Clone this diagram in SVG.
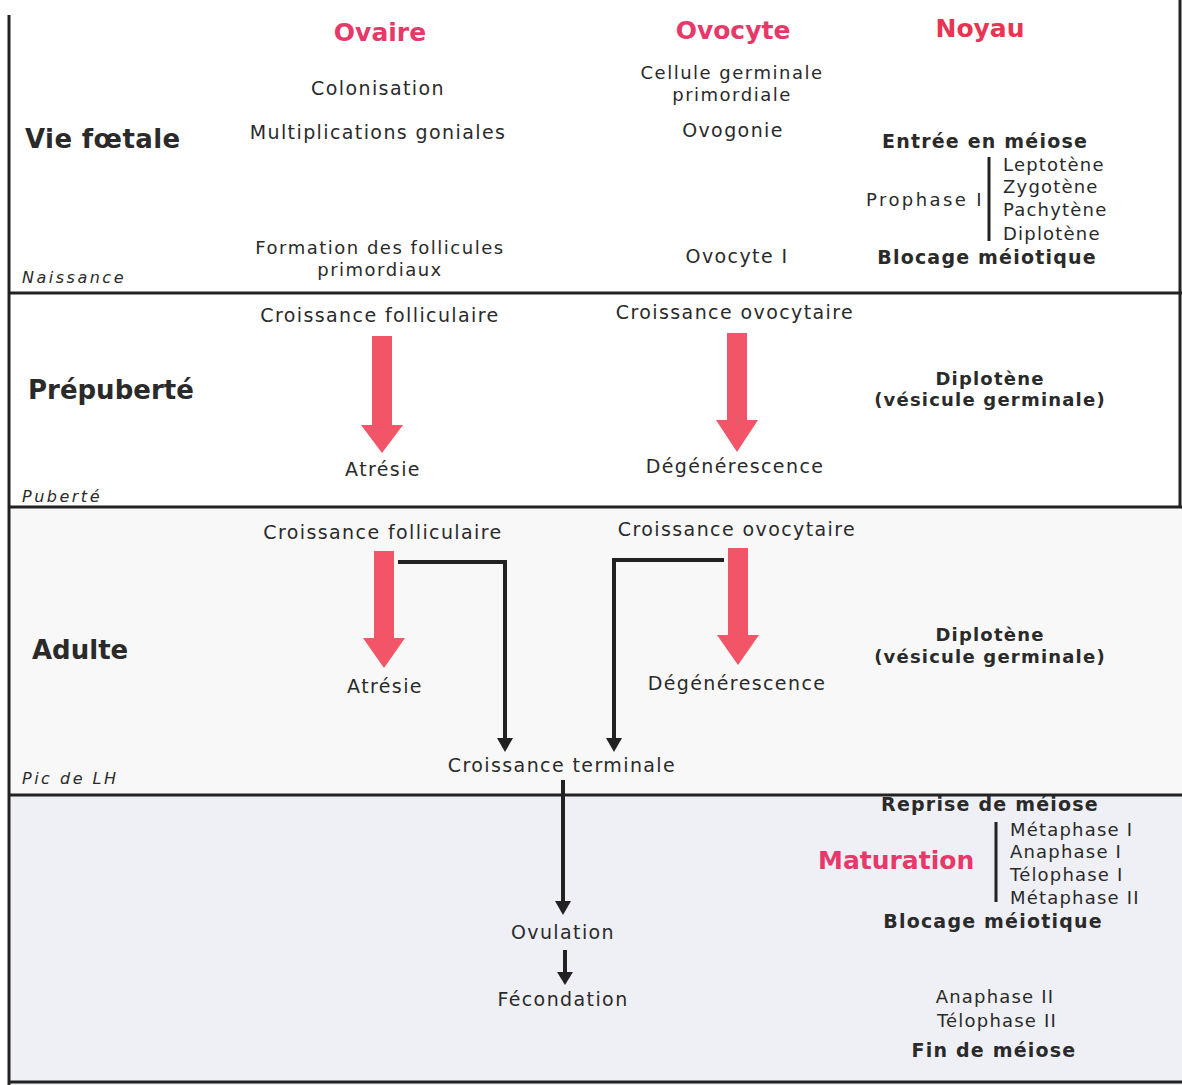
<svg xmlns="http://www.w3.org/2000/svg" width="1182" height="1085" viewBox="0 0 1182 1085">
<defs>
<style>
text{font-family:"DejaVu Sans","Liberation Sans",sans-serif;fill:#2a2a2a}
.t{font-size:19px;letter-spacing:1.4px;text-anchor:middle}
.t2{font-size:18px;letter-spacing:1.5px;text-anchor:middle}
.b{font-size:19px;font-weight:bold;letter-spacing:1.2px;text-anchor:middle}
.b2{font-size:18px;font-weight:bold;letter-spacing:1.2px;text-anchor:middle}
.s{font-size:18px;letter-spacing:1.2px}
.h{font-size:25px;font-weight:bold;text-anchor:middle}
.p{fill:#e6396a}
.big{font-size:26px;font-weight:bold}
.i{font-size:16px;font-style:italic;letter-spacing:2.5px}
.sep{stroke:#222;stroke-width:3;fill:none}
.con{stroke:#222;stroke-width:4;fill:none}
.hd{fill:#222}
.red{fill:#f25568}
</style>
</defs>
<rect width="1182" height="1085" fill="#ffffff"/>
<rect x="8" y="507" width="1174" height="288" fill="#f8f8f8"/>
<rect x="8" y="795" width="1174" height="290" fill="#eff0f5"/>
<g id="frame">
<path class="sep" d="M9 15 V1085"/>
<path class="sep" d="M1180 0 V507"/>
<path class="sep" d="M8 293 H1182"/>
<path class="sep" d="M8 507 H1182"/>
<path class="sep" d="M8 795 H1182"/>
<path class="sep" d="M8 1082 H1182"/>
</g>
<g id="headers">
<text class="h p" x="380" y="41">Ovaire</text>
<text class="h p" x="733" y="39">Ovocyte</text>
<text class="h" x="980" y="37" style="fill:#e83552">Noyau</text>
</g>
<g id="periods">
<text class="big" x="25" y="148" style="letter-spacing:0.4px">Vie fœtale</text>
<text class="i" x="22" y="283">Naissance</text>
<text class="big" x="28" y="399">Prépuberté</text>
<text class="i" x="22" y="502">Puberté</text>
<text class="big" x="32" y="659">Adulte</text>
<text class="i" x="22" y="784">Pic de LH</text>
</g>
<g id="foetal-ovaire">
<text class="t" x="378" y="95">Colonisation</text>
<text class="t" x="378" y="139">Multiplications goniales</text>
<text class="t2" x="380" y="254">Formation des follicules</text>
<text class="t2" x="380" y="276">primordiaux</text>
</g>
<g id="foetal-ovocyte">
<text class="t2" x="732" y="79">Cellule germinale</text>
<text class="t2" x="732" y="101">primordiale</text>
<text class="t" x="733" y="137">Ovogonie</text>
<text class="t" x="737" y="263">Ovocyte I</text>
</g>
<g id="foetal-noyau">
<text class="b" x="985" y="148">Entrée en méiose</text>
<text class="s" x="984" y="206" text-anchor="end" style="letter-spacing:2.4px">Prophase I</text>
<path class="sep" d="M989 157 V241"/>
<text class="s" x="1003" y="171">Leptotène</text>
<text class="s" x="1003" y="193">Zygotène</text>
<text class="s" x="1003" y="216">Pachytène</text>
<text class="s" x="1003" y="240">Diplotène</text>
<text class="b" x="987" y="264">Blocage méiotique</text>
</g>
<g id="prepuberte">
<text class="t" x="380" y="322">Croissance folliculaire</text>
<polygon class="red" points="372,336 392,336 392,425 403,425 382,453 361,425 372,425"/>
<text class="t" x="383" y="476">Atrésie</text>
<text class="t" x="735" y="319">Croissance ovocytaire</text>
<polygon class="red" points="727,333 747,333 747,420 758,420 737,452 716,420 727,420"/>
<text class="t" x="735" y="473">Dégénérescence</text>
<text class="b2" x="990" y="385">Diplotène</text>
<text class="b2" x="990" y="406">(vésicule germinale)</text>
</g>
<g id="adulte">
<text class="t" x="383" y="539">Croissance folliculaire</text>
<polygon class="red" points="374,551 394,551 394,638 405,638 384,668 363,638 374,638"/>
<text class="t" x="385" y="693">Atrésie</text>
<text class="t" x="737" y="536">Croissance ovocytaire</text>
<polygon class="red" points="728,548 748,548 748,635 759,635 738,665 717,635 728,635"/>
<text class="t" x="737" y="690">Dégénérescence</text>
<text class="b2" x="990" y="641">Diplotène</text>
<text class="b2" x="990" y="663">(vésicule germinale)</text>
<text class="t" x="562" y="772">Croissance terminale</text>
</g>
<g id="bottom">
<text class="b" x="990" y="811">Reprise de méiose</text>
<text class="p" x="818" y="869" style="font-size:25px;font-weight:bold">Maturation</text>
<path class="sep" d="M996 822 V902"/>
<text class="s" x="1010" y="836">Métaphase I</text>
<text class="s" x="1010" y="858">Anaphase I</text>
<text class="s" x="1010" y="881">Télophase I</text>
<text class="s" x="1010" y="904">Métaphase II</text>
<text class="b" x="993" y="928">Blocage méiotique</text>
<text class="t" x="563" y="939">Ovulation</text>
<text class="t" x="563" y="1006">Fécondation</text>
<text class="s" x="995" y="1003" text-anchor="middle">Anaphase II</text>
<text class="s" x="997" y="1027" text-anchor="middle">Télophase II</text>
<text class="b" x="994" y="1057">Fin de méiose</text>
</g>
<g id="connectors">
<path class="con" d="M398 562 H505 V740"/>
<polygon class="hd" points="497,738 513,738 505,752"/>
<path class="con" d="M724 560 H614 V740"/>
<polygon class="hd" points="606,738 622,738 614,752"/>
<path class="con" d="M563 780 V903"/>
<polygon class="hd" points="555,901 571,901 563,915"/>
<path class="con" d="M565 950 V975"/>
<polygon class="hd" points="557,972 573,972 565,985"/>
</g>
</svg>
